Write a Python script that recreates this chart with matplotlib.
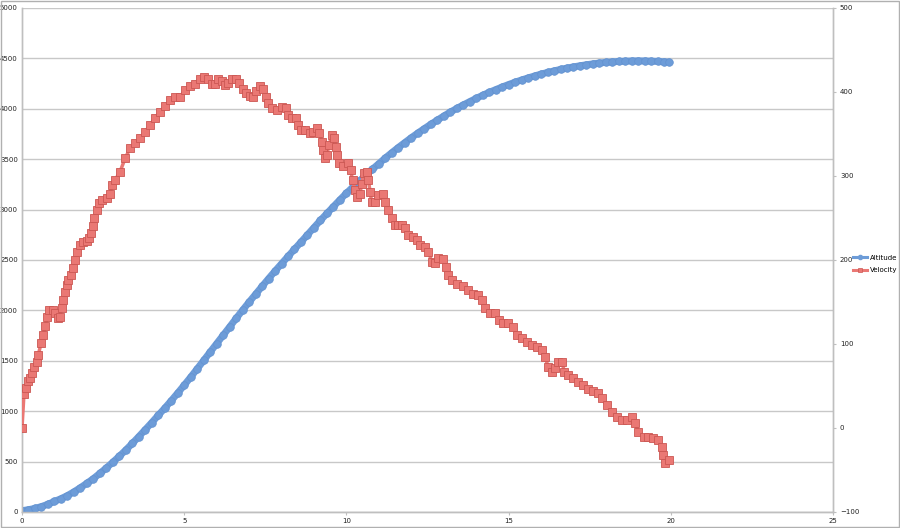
import numpy as np
import matplotlib
matplotlib.use("Agg")
import matplotlib.pyplot as plt
from matplotlib.patches import Rectangle
from matplotlib.lines import Line2D

# ---- data ----
alt_time = [round(i * 0.2, 1) for i in range(100)] + [19.95]
altitude = [13, 23, 36, 54, 77, 105, 132, 163, 200, 241, 285, 331, 383, 437, 494, 553, 615, 680, 748, 817,
            887, 959, 1030, 1104, 1180, 1258, 1338, 1420, 1503, 1587, 1670, 1753, 1836, 1920, 2002, 2082,
            2160, 2238, 2315, 2390, 2463, 2535, 2607, 2678, 2750, 2822, 2893, 2962, 3030, 3097, 3162, 3224,
            3283, 3342, 3400, 3456, 3512, 3565, 3616, 3665, 3713, 3759, 3803, 3846, 3887, 3928, 3967, 4003,
            4038, 4071, 4103, 4134, 4163, 4190, 4216, 4241, 4264, 4286, 4306, 4326, 4344, 4361, 4376, 4391,
            4404, 4416, 4427, 4437, 4446, 4454, 4461, 4466, 4470, 4473, 4475, 4476, 4475, 4473, 4470, 4466,
            4463]

vel_time = [0.0, 0.06, 0.12, 0.18, 0.25, 0.3, 0.38, 0.45, 0.5, 0.59, 0.66, 0.71, 0.78, 0.84, 0.95, 1.02,
            1.1, 1.17, 1.22, 1.27, 1.33, 1.38, 1.43, 1.51, 1.58, 1.63, 1.71, 1.79, 1.89, 1.99, 2.07, 2.13,
            2.18, 2.23, 2.3, 2.37, 2.48, 2.61, 2.71, 2.78, 2.87, 3.02, 3.18, 3.33, 3.48, 3.64, 3.79, 3.95,
            4.1, 4.25, 4.41, 4.56, 4.72, 4.87, 5.02, 5.18, 5.33, 5.49, 5.61, 5.74, 5.85, 5.95, 6.05, 6.16,
            6.26, 6.36, 6.46, 6.6, 6.7, 6.8, 6.9, 7.03, 7.13, 7.21, 7.34, 7.44, 7.52, 7.59, 7.7, 7.85, 8.0,
            8.14, 8.21, 8.31, 8.45, 8.52, 8.59, 8.72, 8.88, 8.98, 9.08, 9.17, 9.24, 9.29, 9.34, 9.39, 9.47,
            9.55, 9.62, 9.68, 9.72, 9.78, 9.91, 10.06, 10.13, 10.19, 10.27, 10.34, 10.42, 10.47, 10.54,
            10.63, 10.68, 10.73, 10.78, 10.88, 10.98, 11.12, 11.19, 11.29, 11.4, 11.5, 11.6, 11.7, 11.81,
            11.91, 12.06, 12.17, 12.27, 12.42, 12.53, 12.63, 12.73, 12.83, 12.97, 13.07, 13.14, 13.25, 13.4,
            13.6, 13.76, 13.91, 14.07, 14.17, 14.27, 14.43, 14.58, 14.71, 14.84, 14.99, 15.13, 15.25, 15.4,
            15.56, 15.71, 15.87, 16.02, 16.12, 16.22, 16.33, 16.43, 16.53, 16.64, 16.72, 16.84, 17.0, 17.15,
            17.3, 17.46, 17.61, 17.77, 17.87, 18.02, 18.18, 18.33, 18.49, 18.64, 18.79, 18.9, 19.0, 19.16,
            19.31, 19.46, 19.62, 19.72, 19.77, 19.83, 19.93]
velocity = [0, 40, 48, 56, 59.5, 65, 73, 79, 87, 101, 111, 121, 132.5, 140.5, 140.5, 136.5,
            130.6, 132.5, 142.5, 152, 162, 170, 176, 182, 190, 200, 210, 218, 222, 222.6, 226, 232,
            240, 250, 259.5, 267.5, 271, 273.5, 279, 289, 295, 305, 321, 333, 339, 345, 352, 361,
            369, 376, 383, 390, 394, 394, 402, 407, 410, 416, 418, 416, 410, 409.5, 415, 413.5,
            408, 411, 416, 416, 411, 404, 399, 395, 394.5, 401.5, 407, 403, 394.5, 386.5, 380.6, 378.6, 382.5,
            380.6, 372.6, 368.7, 368.7, 360.7, 354.8, 354.8, 350.8, 352.7, 356.8, 350.8, 340.8, 331, 321, 325, 337,
            349, 345, 335, 325, 315, 312, 315, 307, 295, 283, 275, 279, 291, 303,
            305, 295, 281, 269, 269, 277, 279, 269, 259.5, 249.6, 241.7, 241.7, 241.7, 237.7,
            229.8, 227.8, 223.8, 217.9, 215.8, 209.9, 198, 196, 202, 200.8, 192, 182, 176, 172,
            169, 164, 160, 158, 152, 142.5, 137, 136.5, 128.6, 125.4, 125.4, 120.6, 110.7, 106.8,
            102.7, 98.8, 96, 92.9, 85, 73, 67, 71, 79, 79, 67, 63, 59, 55,
            51, 47, 44.4, 41.3, 35.4, 27.4, 19.4, 13.5, 9.5, 9.5, 13.5, 5.6, -4.4, -10.4,
            -10.4, -12.3, -14.3, -22.3, -32, -42, -38]

series_names = ["Altitude", "Velocity"]
x_ticks = [0, 5, 10, 15, 20, 25]
left_ticks = list(range(0, 5001, 500))
right_ticks = list(range(-100, 501, 100))

# ---- figure ----
fig = plt.figure(figsize=(9, 5.28), dpi=100)
fig.patch.set_facecolor("white")
fig.patches.append(Rectangle((0.001, 0.002), 0.998, 0.996, transform=fig.transFigure,
                             fill=False, edgecolor="#B0B0B0", linewidth=1.0))

ax = fig.add_axes([22 / 900, 16 / 528, (833 - 22) / 900, (512 - 8) / 528])
ax2 = ax.twinx()

grid_c = "#C8C8C8"
spine_c = "#BFBFBF"
blue = "#6D9CD8"
red_face = "#EA7874"
red_edge = "#CC5753"

ax.set_xlim(0, 25)
ax.set_ylim(0, 5000)
ax2.set_ylim(-100, 500)
ax.set_xticks(x_ticks)
ax.set_yticks(left_ticks)
ax2.set_yticks(right_ticks)
ax.yaxis.grid(True, color=grid_c, linewidth=1.0)
ax.set_axisbelow(True)

ax.plot(alt_time, altitude, color=blue, linewidth=5.0, marker="o", markersize=5.5,
        markerfacecolor=blue, markeredgecolor="#6392D0", markeredgewidth=0.5,
        zorder=3, solid_capstyle="round")
ax2.plot(vel_time, velocity, color=red_face, linewidth=2.5, marker="s", markersize=6,
         markerfacecolor=red_face, markeredgecolor=red_edge, markeredgewidth=0.6, zorder=3)

for a in (ax, ax2):
    for s in a.spines.values():
        s.set_color(spine_c)
        s.set_linewidth(1.0)
    a.spines["top"].set_visible(False)

ax.tick_params(axis="x", labelsize=5, length=2, color=spine_c, pad=2, labelcolor="#222222")
ax.tick_params(axis="y", labelsize=5, length=0, pad=3, labelcolor="#222222")
ax2.tick_params(axis="y", labelsize=5, length=2, color=spine_c, pad=3, labelcolor="#222222")

h1 = Line2D([], [], color=blue, linewidth=2.2, marker="o", markersize=3,
            markerfacecolor=blue, markeredgecolor=blue)
h2 = Line2D([], [], color=red_face, linewidth=2.2, marker="s", markersize=3,
            markerfacecolor=red_face, markeredgecolor=red_edge, markeredgewidth=0.5)
fig.legend(handles=[h1, h2], labels=series_names, loc="center left",
           bbox_to_anchor=(852 / 900, 1 - 264 / 528), frameon=False, fontsize=5,
           handlelength=2.0, handletextpad=0.4, labelspacing=1.0,
           borderpad=0.1, borderaxespad=0.1)

fig.savefig("out.png", dpi=100)
